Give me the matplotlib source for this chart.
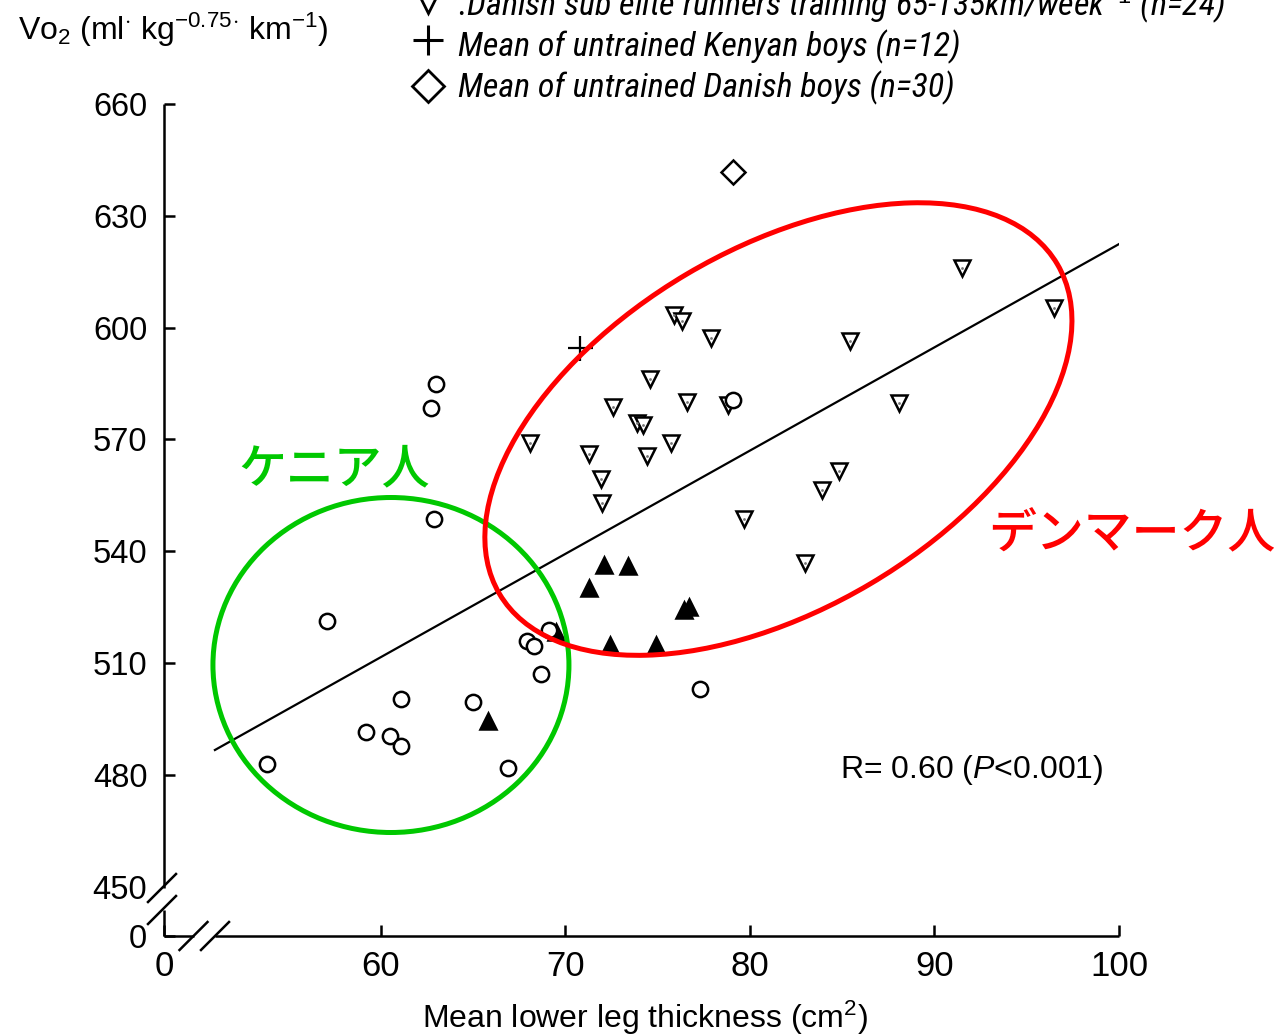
import matplotlib
matplotlib.use("Agg")
import matplotlib.pyplot as plt
from matplotlib.patches import Ellipse
from matplotlib.lines import Line2D
from matplotlib.transforms import ScaledTranslation

plt.rcParams['font.family'] = ['Liberation Sans', 'DejaVu Sans']
plt.rcParams['mathtext.fontset'] = 'custom'
plt.rcParams['mathtext.rm'] = 'Liberation Sans'
plt.rcParams['mathtext.it'] = 'Liberation Sans:italic'
plt.rcParams['mathtext.bf'] = 'Liberation Sans:bold'

# ---- data: mean lower leg thickness (cm^2) vs running economy VO2 ----
circle_x = [53.8, 57.1, 59.2, 60.5, 61.1, 61.1, 62.7, 63.0, 62.9, 65.0,
            66.9, 67.9, 68.3, 68.7, 69.1, 79.1, 77.3]
circle_y = [482.9, 521.3, 491.5, 490.4, 487.7, 500.4, 578.4, 584.9, 548.7, 499.6,
            481.8, 515.9, 514.6, 507.1, 518.9, 580.6, 503.0]

filled_tri_x = [65.8, 69.5, 71.3, 72.1, 73.4, 72.4, 74.9, 76.4, 76.7]
filled_tri_y = [494.5, 518.3, 530.1, 536.3, 536.0, 514.8, 514.8, 524.2, 525.0]

danish_sub_elite_x = [75.9, 76.3, 77.9, 74.6, 72.6, 76.6, 78.8, 73.9, 74.2, 68.1,
                      71.3, 74.4, 75.7, 71.9, 72.0, 79.7, 85.4, 91.5, 96.5, 88.1,
                      84.8, 83.9, 83.0]
danish_sub_elite_y = [603.4, 601.8, 597.2, 586.2, 578.7, 580.0, 579.2, 574.4, 573.9, 569.0,
                      566.1, 565.6, 569.0, 559.4, 552.9, 548.6, 596.4, 616.0, 605.3, 579.8,
                      561.5, 556.4, 536.8]

kenyan_boys_mean = (70.8, 594.5)
danish_boys_mean = (79.1, 641.8)

fit_x = [51.0, 100.1]
fit_y = [486.7, 622.7]

x_ticks = [60, 70, 80, 90, 100]
y_ticks = [450, 480, 510, 540, 570, 600, 630, 660]

legend_labels = [
    ".Danish sub elite runners training 65-135km/week$^{-1}$ (n=24)",
    "Mean of untrained Kenyan boys (n=12)",
    "Mean of untrained Danish boys (n=30)",
]

# ---- figure layout (pixel based) ----
W, H = 1274, 1035
fig = plt.figure(figsize=(W / 100, H / 100), dpi=100)


def fx(px):
    return px / W


def fy(py):
    return 1 - py / H


AX_L, AX_R, AX_T, AX_B = 164, 1119, 104, 936
ax = fig.add_axes([fx(AX_L), fy(AX_B), (AX_R - AX_L) / W, (AX_B - AX_T) / H])
X0 = 48.24   # x value at the broken left axis, labelled 0
Y0 = 436.8   # y value at the broken bottom axis, labelled 0
ax.set_xlim(X0, 100)
ax.set_ylim(Y0, 660)
for s in ax.spines.values():
    s.set_visible(False)
ax.patch.set_visible(False)

ax.set_xticks([X0] + x_ticks)
ax.set_xticklabels(['0'] + [str(v) for v in x_ticks])
ax.set_yticks([Y0] + y_ticks)
ax.set_yticklabels(['0'] + [str(v) for v in y_ticks])
ax.tick_params(axis='both', direction='in', length=8, width=1.8, color='black')
ax.tick_params(axis='y', labelsize=23.5, pad=12)
ax.tick_params(axis='x', labelsize=25, pad=10)
ax.yaxis.get_major_ticks()[1].tick1line.set_visible(False)

# axis lines with break marks
LW = 1.8
axis_segments = [
    [(AX_L, AX_T), (AX_L, 888)],
    [(AX_L, 910), (AX_L, AX_B)],
    [(AX_L, AX_B), (194, AX_B)],
    [(215, AX_B), (AX_R, AX_B)],
]
for (x1, y1), (x2, y2) in axis_segments:
    fig.add_artist(Line2D([fx(x1), fx(x2)], [fy(y1), fy(y2)], color='black',
                          lw=LW, solid_capstyle='butt', transform=fig.transFigure))
for cx, cy in [(162, 888), (162, 910), (193.5, AX_B), (215, AX_B)]:
    fig.add_artist(Line2D([fx(cx - 14), fx(cx + 14)], [fy(cy + 14), fy(cy - 14)],
                          color='black', lw=LW, transform=fig.transFigure))

# regression line
ax.plot(fit_x, fit_y, color='black', lw=1.6, zorder=2)

# data points
mk = dict(mec='black', mew=1.8, ls='none', zorder=3)
ax.plot(danish_sub_elite_x, danish_sub_elite_y, marker='v', ms=11.5, mfc='white', **mk)
ax.plot(danish_sub_elite_x, danish_sub_elite_y, marker='.', ms=2, color='#777777',
        ls='none', zorder=3)
ax.plot(filled_tri_x, filled_tri_y, marker='^', ms=12, mfc='black', **mk)
ax.plot(circle_x, circle_y, marker='o', ms=11, mfc='white', **mk)
ax.plot([kenyan_boys_mean[0]], [kenyan_boys_mean[1]], marker='+', ms=18,
        mec='black', mew=1.6, ls='none', zorder=3)
ax.plot([danish_boys_mean[0]], [danish_boys_mean[1]], marker='D', ms=12,
        mfc='white', **mk)

# group outlines
green_ring = Ellipse((0, 0), width=3.56, height=3.35, angle=0, fill=False,
                     ec='#00C800', lw=3.6, zorder=5, clip_on=False,
                     transform=fig.dpi_scale_trans + ScaledTranslation(60.54, 509.5, ax.transData))
red_ring = Ellipse((0, 0), width=6.48, height=3.60, angle=30.6, fill=False,
                   ec='#FF0000', lw=3.6, zorder=5, clip_on=False,
                   transform=fig.dpi_scale_trans + ScaledTranslation(81.54, 572.8, ax.transData))
ax.add_patch(green_ring)
ax.add_patch(red_ring)

cjk = ['Noto Sans CJK JP', 'DejaVu Sans']
fig.text(fx(334), fy(470), 'ケニア人', color='#00C800', fontsize=34.5, family=cjk,
         weight='medium', ha='center', va='center')
fig.text(fx(988), fy(535), 'デンマーク人', color='#FF0000', fontsize=34.5, family=cjk,
         weight='medium', ha='left', va='center')

fig.text(fx(840), fy(778), 'R= 0.60 ($P$<0.001)', fontsize=23, ha='left', va='baseline')

# axis titles
fig.text(fx(18), fy(40), r'Vo$_2$ (ml$^{\cdot}$ kg$^{-0.75}$$^{\cdot}$ km$^{-1}$)',
         fontsize=23, ha='left', va='baseline')
fig.text(fx(645), fy(1028), 'Mean lower leg thickness (cm$^2$)', fontsize=23,
         ha='center', va='baseline')

# legend
leg_font = ['Roboto Condensed', 'Roboto', 'DejaVu Sans']
leg_base = [15, 56, 97]
leg_markers = [dict(marker='v', ms=20, mfc='white', mec='black', mew=2.0),
               dict(marker='+', ms=22, mec='black', mew=2.2),
               dict(marker='D', ms=16, mfc='white', mec='black', mew=2.0)]
leg_marker_y = [-1, 40, 86]
for label, base, mstyle, my in zip(legend_labels, leg_base, leg_markers, leg_marker_y):
    fig.add_artist(Line2D([fx(428)], [fy(my)], ls='none', transform=fig.transFigure, **mstyle))
    fig.text(fx(458), fy(base), label, fontsize=24.5, family=leg_font, style='italic',
             ha='left', va='baseline')

fig.savefig('out.png', dpi=100)
